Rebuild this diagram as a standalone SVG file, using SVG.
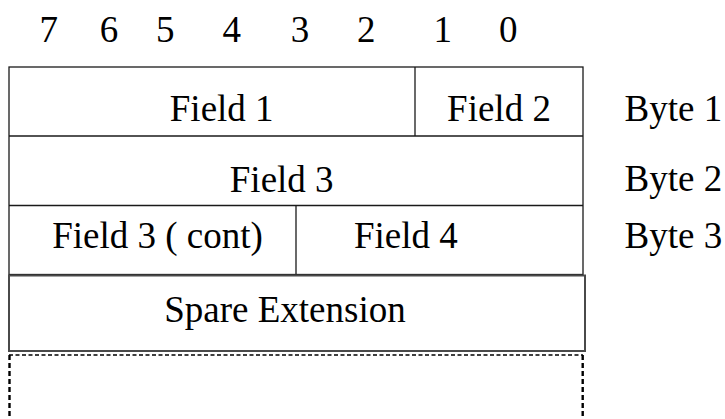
<svg xmlns="http://www.w3.org/2000/svg" width="725" height="419" viewBox="0 0 725 419">
<style>
text{font-family:'Liberation Serif','Times New Roman',serif;font-size:37px;fill:#000}
.c{text-anchor:middle}
.box{fill:none;stroke:#1a1a1a;stroke-width:1.3}
.spare{fill:#fff;stroke:#4a4a4a;stroke-width:2}
.dh{stroke:#000;stroke-width:1.4;stroke-dasharray:4 2.5;fill:none}
.dv{stroke:#000;stroke-width:2.4;stroke-dasharray:5 3;fill:none}
</style>
<rect width="725" height="419" fill="#fff"/>
<g id="bits">
<text class="c" x="48.7" y="42.3">7</text>
<text class="c" x="109" y="42.3">6</text>
<text class="c" x="165.3" y="42.3">5</text>
<text class="c" x="231.7" y="42.3">4</text>
<text class="c" x="300" y="42.3">3</text>
<text class="c" x="366.2" y="42.3">2</text>
<text class="c" x="442.7" y="42.3">1</text>
<text class="c" x="508.3" y="42.3">0</text>
</g>
<g id="frame">
<rect class="box" x="9" y="67" width="574" height="207.5"/>
<line class="box" x1="9" y1="136" x2="583" y2="136"/>
<line class="box" x1="9" y1="205.5" x2="583" y2="205.5"/>
</g>
<g id="field1">
<text class="c" x="221.7" y="120.7">Field 1</text>
</g>
<g id="field2">
<line class="box" x1="415" y1="67" x2="415" y2="136"/>
<text class="c" x="499" y="120.7">Field 2</text>
</g>
<g id="field3">
<text class="c" x="281.7" y="191.5">Field 3</text>
</g>
<g id="field3cont">
<text class="c" x="157.5" y="248.3">Field 3 ( cont)</text>
</g>
<g id="field4">
<line class="box" x1="296" y1="205.5" x2="296" y2="274.5"/>
<text x="354" y="248.3">Field 4</text>
</g>
<g id="spare">
<rect class="spare" x="9" y="275.5" width="576" height="75.5"/>
<text class="c" x="285" y="322">Spare Extension</text>
</g>
<g id="extension">
<line class="dh" x1="9" y1="355" x2="583" y2="355"/>
<line class="dv" x1="9.5" y1="355" x2="9.5" y2="419"/>
<line class="dv" x1="582.7" y1="355" x2="582.7" y2="419"/>
</g>
<g id="bytes">
<text x="624.5" y="120.7">Byte 1</text>
<text x="624.5" y="190.7">Byte 2</text>
<text x="624.5" y="248.3">Byte 3</text>
</g>
</svg>
